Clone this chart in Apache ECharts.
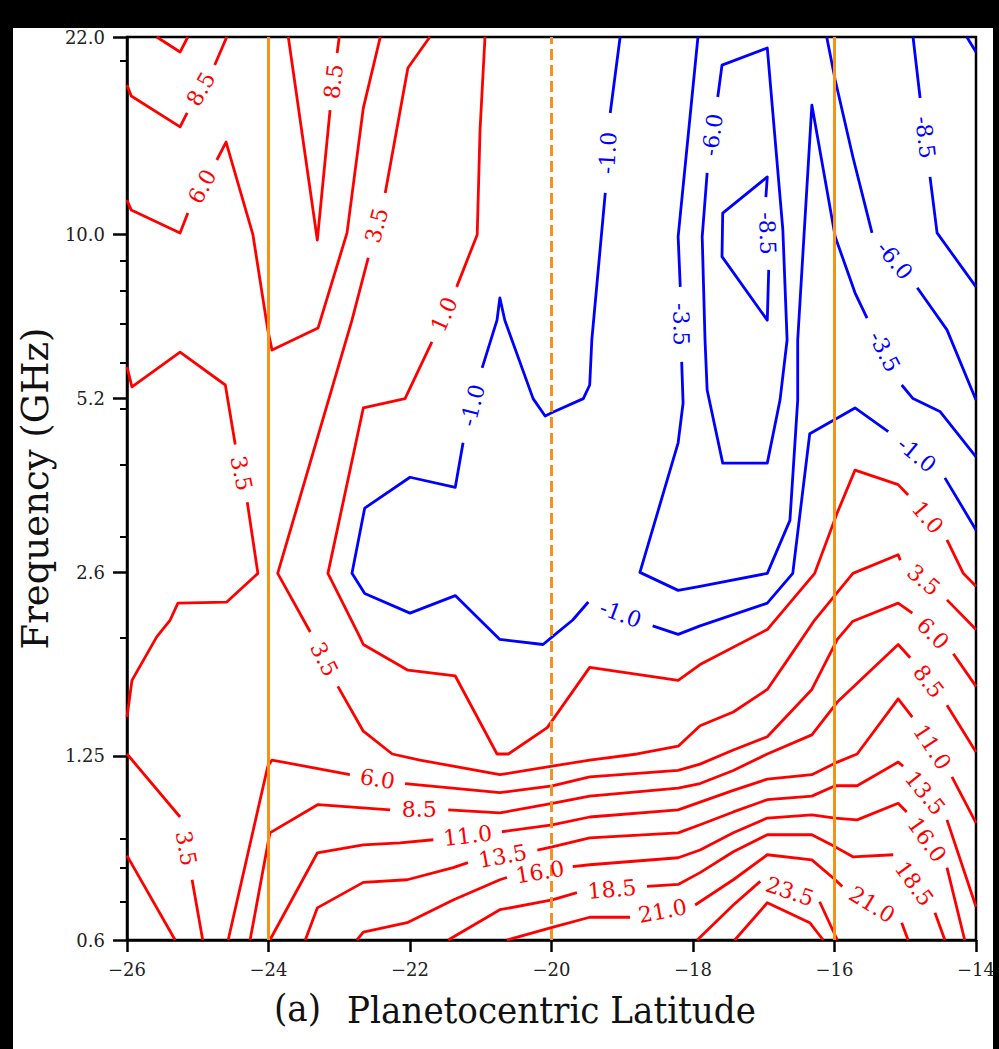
<!DOCTYPE html>
<html>
<head>
<meta charset="utf-8">
<script src="https://cdn.jsdelivr.net/npm/echarts@6.0.0/dist/echarts.min.js"></script>
<style>
  html, body { margin: 0; padding: 0; background: #000; }
  #sheet { position: absolute; left: 13px; top: 28px; width: 980px; height: 1021px; background: #fff; }
  #chart { position: absolute; left: 0; top: 0; width: 999px; height: 1049px; }
</style>
</head>
<body>
<div id="sheet"></div>
<div id="chart"></div>
<script>
// ---- axes ----
const latTicks = [-26, -24, -22, -20, -18, -16, -14];
const freqTicks = [0.6, 1.25, 2.6, 5.2, 10, 22];
const freqTickLabels = ['0.6', '1.25', '2.6', '5.2', '10.0', '22.0'];
const freqMinorTicks = [0.7, 0.8, 0.9, 2, 3, 4, 5, 6, 7, 8, 9, 20];

// reference latitudes (deg)
const markerLats = [-24, -20, -16];
const markerDashed = [false, true, false];

// ---- contour paths: [latitude (deg), frequency (GHz)]; GAP marks where a level label sits ----
const GAP = [NaN, NaN];

const pos110TopLeft = [[-25.58, 22], [-25.25, 20.72], [-25.14, 22]];
const pos85TopLeft = [[-26, 18.17], [-25.94, 17.39], [-25.25, 15.37], [-25.15, 16.25], GAP, [-24.76, 19.67], [-24.59, 22]];
const pos60Upper = [[-26, 11.48], [-25.94, 11.03], [-25.25, 10.07], [-25.14, 10.90], GAP, [-24.73, 13.47], [-24.60, 14.47],
  [-24.22, 10.0], [-24.01, 6.84], [-23.95, 6.31], [-23.30, 6.89], [-22.89, 10.07], [-22.66, 16.57], [-22.42, 22]];
const pos85Notch = [[-23.72, 22], [-23.31, 9.79], [-23.13, 16.44], GAP, [-23.03, 20.64], [-23.0, 22]];
const pos35Main = [[-21.72, 22], [-22.03, 19.44], [-22.35, 11.81], GAP, [-22.59, 9.12], [-22.82, 7.11], [-23.87, 2.59],
  [-23.41, 2.05], GAP, [-23.02, 1.65], [-22.66, 1.38], [-22.25, 1.26], [-21.86, 1.23], [-21.39, 1.20], [-20.73, 1.16],
  [-19.99, 1.20], [-19.46, 1.23], [-18.79, 1.26], [-18.21, 1.30], [-17.90, 1.41], [-17.43, 1.49], [-16.95, 1.63],
  [-16.63, 1.86], [-16.28, 2.15], [-15.74, 2.59], [-15.10, 2.79], [-15.07, 2.73], GAP, [-14.41, 2.33], [-14, 2.07]];
const pos35Left = [[-26, 5.90], [-25.93, 5.45], [-25.25, 6.26], [-24.61, 5.49], [-24.47, 4.33], GAP, [-24.30, 3.44],
  [-24.15, 2.59], [-24.59, 2.31], [-25.28, 2.30], [-25.39, 2.15], [-25.58, 2.01], [-25.93, 1.69], [-26, 1.46]];
const pos35LowerLeft = [[-26, 1.26], [-25.25, 0.980], GAP, [-25.08, 0.763], [-24.93, 0.6]];
const pos10Corner = [[-26, 0.840], [-25.32, 0.6]];
const pos60Lower = [[-24.57, 0.6], [-24.01, 1.20], [-23.95, 1.23], [-22.85, 1.16], GAP, [-22.07, 1.12], [-20.73, 1.08],
  [-19.99, 1.11], [-19.46, 1.15], [-18.21, 1.18], [-17.90, 1.21], [-17.43, 1.28], [-16.95, 1.35], [-16.32, 1.63],
  [-15.96, 1.99], [-15.74, 2.14], [-15.10, 2.30], [-14.90, 2.21], GAP, [-14.32, 1.88], [-14, 1.65]];
const pos85Lower = [[-24.26, 0.6], [-23.98, 0.920], [-23.30, 1.03], [-22.28, 1.008], GAP, [-21.46, 1.008], [-20.73, 0.996],
  [-19.99, 1.035], [-19.46, 1.065], [-18.21, 1.10], [-17.90, 1.12], [-17.43, 1.18], [-16.95, 1.26], [-16.32, 1.36],
  [-15.96, 1.55], [-15.10, 1.95], [-14.93, 1.85], GAP, [-14.41, 1.53], [-14, 1.27]];
const pos110 = [[-23.98, 0.6], [-23.31, 0.849], [-22.66, 0.877], [-22.14, 0.884], [-21.67, 0.895], GAP, [-20.70, 0.924],
  [-19.99, 0.950], [-19.46, 0.980], [-18.21, 1.008], [-17.90, 1.04], [-17.43, 1.09], [-16.95, 1.14], [-16.32, 1.16],
  [-15.96, 1.22], [-15.68, 1.26], [-15.10, 1.57], [-14.90, 1.46], GAP, [-14.34, 1.15], [-14, 0.957]];
const pos135 = [[-23.48, 0.6], [-23.31, 0.682], [-22.66, 0.755], [-22.04, 0.763], [-21.39, 0.801], [-21.18, 0.817], GAP,
  [-20.20, 0.859], [-19.99, 0.870], [-19.46, 0.902], [-18.21, 0.920], [-17.90, 0.950], [-17.43, 1.0], [-16.95, 1.05],
  [-16.32, 1.065], [-15.99, 1.11], [-15.68, 1.11], [-15.10, 1.22], [-15.03, 1.20], GAP, [-14.41, 0.969], [-14, 0.685]];
const pos160 = [[-22.75, 0.6], [-22.66, 0.619], [-22.04, 0.643], [-21.39, 0.704], [-20.73, 0.763], [-20.63, 0.770], GAP,
  [-19.70, 0.804], [-19.46, 0.810], [-18.21, 0.833], [-17.90, 0.859], [-17.43, 0.920], [-16.95, 0.976], [-16.32, 0.988],
  [-15.99, 0.976], [-15.68, 0.969], [-15.10, 1.035], [-14.98, 1.0], GAP, [-14.41, 0.801], [-14.16, 0.6]];
const pos185 = [[-21.46, 0.6], [-20.73, 0.677], [-19.99, 0.704], [-19.64, 0.725], GAP, [-18.65, 0.743], [-18.21, 0.749],
  [-17.90, 0.785], [-17.43, 0.853], [-16.95, 0.913], [-16.32, 0.913], [-15.99, 0.870], [-15.74, 0.836], [-15.17, 0.843],
  GAP, [-14.58, 0.669], [-14.44, 0.6]];
const pos210 = [[-20.63, 0.6], [-19.99, 0.631], [-19.46, 0.657], [-18.89, 0.657], GAP, [-17.97, 0.690], [-17.43, 0.763],
  [-16.95, 0.843], [-16.32, 0.826], [-15.99, 0.763], [-15.89, 0.743], GAP, [-15.05, 0.643], [-14.96, 0.6]];
const pos235 = [[-17.94, 0.6], [-17.43, 0.690], [-17.05, 0.758], GAP, [-16.21, 0.699], [-15.96, 0.6]];
const pos260 = [[-17.41, 0.6], [-16.95, 0.696], [-16.35, 0.643], [-16.16, 0.6]];
const pos10Main = [[-20.94, 22], [-21.01, 15.18], [-21.05, 10.0], [-21.34, 8.12], GAP, [-21.69, 6.52], [-22.07, 5.20],
  [-22.66, 5.01], [-23.16, 2.59], [-22.71, 2.01], [-22.66, 1.95], [-22.03, 1.76], [-21.36, 1.72], [-20.77, 1.26],
  [-20.61, 1.26], [-20.06, 1.40], [-19.46, 1.78], [-18.21, 1.69], [-17.90, 1.80], [-16.95, 2.07], [-16.28, 2.59],
  [-15.96, 3.30], [-15.71, 3.91], [-15.10, 3.69], [-14.96, 3.54], GAP, [-14.41, 2.96], [-14.18, 2.59], [-14, 2.46]];

const neg10 = [[-19.03, 22], [-19.17, 16.25], GAP, [-19.24, 11.81], [-19.43, 6.57], [-19.46, 5.49], [-19.55, 5.20],
  [-19.99, 4.92], [-20.09, 4.85], [-20.26, 5.20], [-20.66, 7.11], [-20.73, 7.77], [-20.77, 7.11], [-20.98, 5.88], GAP,
  [-21.25, 4.36], [-21.36, 3.65], [-22.0, 3.80], [-22.64, 3.36], [-22.82, 2.59], [-22.64, 2.39], [-22.0, 2.21],
  [-21.36, 2.37], [-21.01, 2.15], [-20.73, 1.99], [-20.12, 1.95], [-19.99, 2.01], [-19.70, 2.15], [-19.48, 2.31], GAP,
  [-18.57, 2.10], [-18.21, 2.03], [-17.90, 2.10], [-16.95, 2.30], [-16.59, 2.59], [-16.35, 4.52], [-15.71, 5.01],
  [-15.24, 4.56], GAP, [-14.44, 3.79], [-14, 3.08]];
const neg35 = [[-17.93, 22], [-18.21, 9.92], [-18.18, 8.12], GAP, [-18.16, 6.02], [-18.14, 5.11], [-18.21, 4.36],
  [-18.75, 2.60], [-18.21, 2.42], [-17.90, 2.46], [-16.95, 2.59], [-16.63, 3.20], [-16.52, 5.17], [-16.52, 6.57],
  [-16.32, 16.77], [-15.99, 9.92], [-15.71, 7.93], [-15.54, 7.17], GAP, [-15.05, 5.49], [-14.89, 5.20], [-14.51, 4.94],
  [-14, 4.12]];
const neg60Loop = [[-17.80, 12.80], GAP, [-17.65, 17.32], [-17.59, 19.67], [-16.95, 21.06], [-16.73, 10.19], [-16.67, 6.57],
  [-16.77, 5.17], [-16.95, 4.02], [-17.58, 4.02], [-17.80, 5.38], [-17.83, 6.57], [-17.87, 9.92], [-17.80, 12.80]];
const neg85Loop = [[-16.93, 8.69], GAP, [-16.97, 11.62], [-16.95, 12.59], [-17.58, 10.90], [-17.59, 9.16], [-16.95, 7.11],
  [-16.93, 8.69]];
const neg60Right = [[-16.11, 22], [-15.99, 18.53], [-15.74, 13.63], [-15.47, 10.07], GAP, [-14.83, 8.09], [-14.41, 6.84],
  [-14, 5.17]];
const neg85Right = [[-14.89, 22], [-14.79, 17.25], GAP, [-14.65, 12.59], [-14.55, 10.07], [-14, 8.12]];
const neg110Corner = [[-14.13, 22], [-14, 20.72]];

const contours = [
  { level: 11.0, path: pos110TopLeft },
  { level: 8.5, path: pos85TopLeft },
  { level: 6.0, path: pos60Upper },
  { level: 8.5, path: pos85Notch },
  { level: 3.5, path: pos35Main },
  { level: 3.5, path: pos35Left },
  { level: 3.5, path: pos35LowerLeft },
  { level: 1.0, path: pos10Corner },
  { level: 6.0, path: pos60Lower },
  { level: 8.5, path: pos85Lower },
  { level: 11.0, path: pos110 },
  { level: 13.5, path: pos135 },
  { level: 16.0, path: pos160 },
  { level: 18.5, path: pos185 },
  { level: 21.0, path: pos210 },
  { level: 23.5, path: pos235 },
  { level: 26.0, path: pos260 },
  { level: 1.0, path: pos10Main },
  { level: -1.0, path: neg10 },
  { level: -3.5, path: neg35 },
  { level: -6.0, path: neg60Loop },
  { level: -8.5, path: neg85Loop },
  { level: -6.0, path: neg60Right },
  { level: -8.5, path: neg85Right },
  { level: -11.0, path: neg110Corner }
];

// ---- styling ----
const RED = '#ff0000';
const BLUE = '#0000ff';
const ORANGE = '#f8901c';
const SERIF = '"DejaVu Serif", "Liberation Serif", serif';

const lg = (f) => Math.log10(f);
const toXY = (p) => (isNaN(p[0]) ? [NaN, NaN] : [p[0], lg(p[1])]);
const colorOf = (level) => (level > 0 ? RED : BLUE);

const series = [];

contours.forEach((c) => {
  series.push({
    type: 'line',
    data: c.path.map(toXY),
    showSymbol: false,
    symbol: 'none',
    silent: true,
    animation: false,
    connectNulls: false,
    clip: true,
    z: 3,
    lineStyle: { color: colorOf(c.level), width: 2.8, join: 'round', cap: 'butt' }
  });
});

// level labels sit in the gaps of each path, aligned with the gap's chord
const labelData = [];
const labelText = [];
const labelColor = [];
contours.forEach((c) => {
  for (let i = 1; i < c.path.length - 1; i++) {
    if (isNaN(c.path[i][0])) {
      const a = toXY(c.path[i - 1]);
      const b = toXY(c.path[i + 1]);
      labelData.push([a[0], a[1], b[0], b[1]]);
      labelText.push(c.level.toFixed(1));
      labelColor.push(colorOf(c.level));
    }
  }
});

series.push({
  type: 'custom',
  coordinateSystem: 'cartesian2d',
  silent: true,
  animation: false,
  z: 6,
  encode: { x: [0, 2], y: [1, 3] },
  data: labelData,
  renderItem: function (params, api) {
    const p1 = api.coord([api.value(0), api.value(1)]);
    const p2 = api.coord([api.value(2), api.value(3)]);
    let ang = Math.atan2(-(p2[1] - p1[1]), p2[0] - p1[0]);
    if (ang > Math.PI / 2) ang -= Math.PI;
    else if (ang <= -Math.PI / 2) ang += Math.PI;
    return {
      type: 'text',
      x: (p1[0] + p2[0]) / 2,
      y: (p1[1] + p2[1]) / 2,
      rotation: ang,
      style: {
        text: labelText[params.dataIndex],
        fill: labelColor[params.dataIndex],
        font: '22px ' + SERIF,
        align: 'center',
        verticalAlign: 'middle'
      }
    };
  }
});

// vertical reference latitudes
const yLo = lg(freqTicks[0]);
const yHi = lg(freqTicks[freqTicks.length - 1]);
markerLats.forEach((lat, i) => {
  series.push({
    type: 'line',
    data: [[lat, yLo], [lat, yHi]],
    showSymbol: false,
    symbol: 'none',
    silent: true,
    animation: false,
    z: 5,
    lineStyle: { color: ORANGE, width: 3, type: markerDashed[i] ? [11, 5] : 'solid' }
  });
});

const nearestFreqLabel = (v) => {
  let best = 0;
  freqTicks.forEach((t, i) => {
    if (Math.abs(lg(t) - v) < Math.abs(lg(freqTicks[best]) - v)) best = i;
  });
  return freqTickLabels[best];
};

const chart = echarts.init(document.getElementById('chart'), null, { renderer: 'svg', width: 999, height: 1049 });
chart.setOption({
  backgroundColor: 'transparent',
  animation: false,
  grid: {
    left: 127, top: 37, width: 849, height: 903,
    show: true, backgroundColor: '#fff', borderColor: '#000', borderWidth: 2.5
  },
  xAxis: {
    type: 'value',
    min: latTicks[0],
    max: latTicks[latTicks.length - 1],
    interval: 2,
    axisLine: { show: true, onZero: false, lineStyle: { color: '#000', width: 2.5 } },
    axisTick: { show: true, length: 12, lineStyle: { color: '#000', width: 2.5 } },
    axisLabel: {
      margin: 20, color: '#222', fontFamily: SERIF, fontSize: 18,
      formatter: (v) => (v < 0 ? '\u2212' : '') + Math.abs(v)
    },
    splitLine: { show: false },
    name: 'Planetocentric Latitude',
    nameLocation: 'middle',
    nameGap: 51,
    nameTextStyle: { fontFamily: '"DejaVu Serif Condensed", ' + SERIF, fontSize: 38, color: '#111' }
  },
  yAxis: [
    {
      type: 'value',
      min: yLo,
      max: yHi,
      axisLine: { show: true, onZero: false, lineStyle: { color: '#000', width: 2.5 } },
      axisTick: { show: true, length: 14, customValues: freqTicks.map(lg), lineStyle: { color: '#000', width: 2.5 } },
      axisLabel: {
        customValues: freqTicks.map(lg), margin: 22, color: '#222', fontFamily: SERIF, fontSize: 18,
        formatter: nearestFreqLabel
      },
      splitLine: { show: false },
      name: 'Frequency (GHz)',
      nameLocation: 'middle',
      nameRotate: 90,
      nameGap: 67,
      nameTextStyle: { fontFamily: SERIF, fontSize: 37, color: '#111' }
    },
    {
      type: 'value',
      min: yLo,
      max: yHi,
      position: 'left',
      axisLine: { show: false, onZero: false },
      axisTick: { show: true, length: 7, customValues: freqMinorTicks.map(lg), lineStyle: { color: '#000', width: 2 } },
      axisLabel: { show: false },
      splitLine: { show: false }
    }
  ],
  graphic: [
    {
      type: 'text',
      left: 274,
      top: 989,
      style: { text: '(a)', font: '38px "DejaVu Serif Condensed", ' + SERIF, fill: '#111' }
    }
  ],
  series: series
});
</script>
</body>
</html>
